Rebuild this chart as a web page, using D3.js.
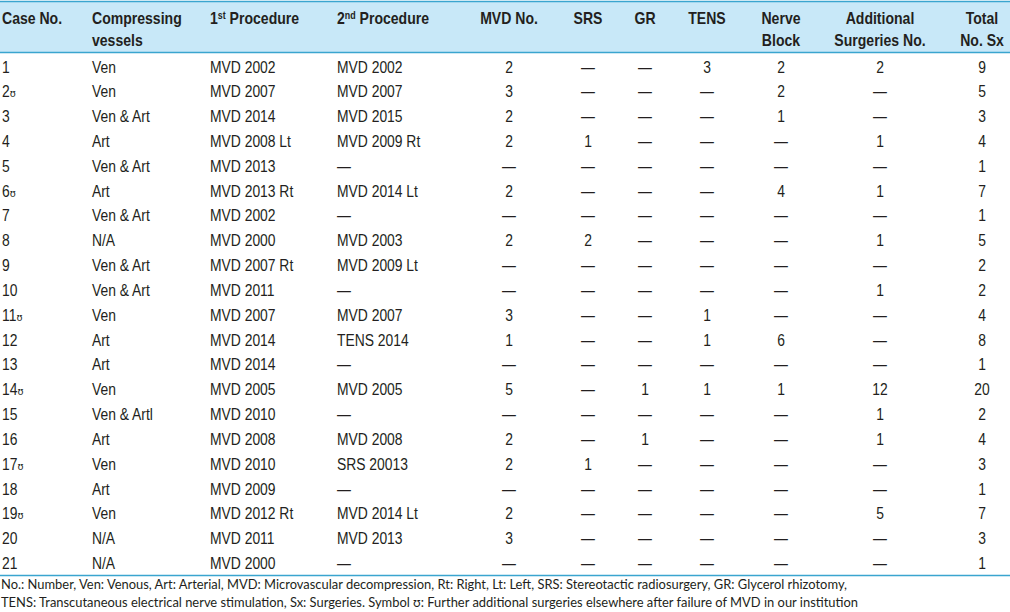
<!DOCTYPE html>
<html><head><meta charset="utf-8">
<script src="https://cdn.jsdelivr.net/npm/d3@7"></script>
<style>
html,body{margin:0;padding:0;background:#fff;}
svg{display:block;}
</style></head>
<body>
<svg id="chart" width="1010" height="612"></svg>
<script>
// ---- data ----
const caseNo = ["1","2ʊ","3","4","5","6ʊ","7","8","9","10","11ʊ","12","13","14ʊ","15","16","17ʊ","18","19ʊ","20","21"];
const vessels = ["Ven","Ven","Ven & Art","Art","Ven & Art","Art","Ven & Art","N/A","Ven & Art","Ven & Art","Ven","Art","Art","Ven","Ven & Artl","Art","Ven","Art","Ven","N/A","N/A"];
const proc1 = ["MVD 2002","MVD 2007","MVD 2014","MVD 2008 Lt","MVD 2013","MVD 2013 Rt","MVD 2002","MVD 2000","MVD 2007 Rt","MVD 2011","MVD 2007","MVD 2014","MVD 2014","MVD 2005","MVD 2010","MVD 2008","MVD 2010","MVD 2009","MVD 2012 Rt","MVD 2011","MVD 2000"];
const proc2 = ["MVD 2002","MVD 2007","MVD 2015","MVD 2009 Rt",null,"MVD 2014 Lt",null,"MVD 2003","MVD 2009 Lt",null,"MVD 2007","TENS 2014",null,"MVD 2005",null,"MVD 2008","SRS 20013",null,"MVD 2014 Lt","MVD 2013",null];
const mvdNo = [2,3,2,2,null,2,null,2,null,null,3,1,null,5,null,2,2,null,2,3,null];
const srs = [null,null,null,1,null,null,null,2,null,null,null,null,null,null,null,null,1,null,null,null,null];
const gr = [null,null,null,null,null,null,null,null,null,null,null,null,null,1,null,1,null,null,null,null,null];
const tens = [3,null,null,null,null,null,null,null,null,null,1,1,null,1,null,null,null,null,null,null,null];
const nerveBlock = [2,2,1,null,null,4,null,null,null,null,null,6,null,1,null,null,null,null,null,null,null];
const additional = [2,null,null,1,null,1,null,1,null,1,null,null,null,12,1,1,null,null,5,null,null];
const totalSx = [9,5,3,4,1,7,1,5,2,2,4,8,1,20,2,4,3,1,7,3,1];
const headers = [
  {key:"case", lines:["Case No."]},
  {key:"vessels", lines:["Compressing","vessels"]},
  {key:"proc1", lines:["1|st| Procedure"]},
  {key:"proc2", lines:["2|nd| Procedure"]},
  {key:"mvd", lines:["MVD No."]},
  {key:"srs", lines:["SRS"]},
  {key:"gr", lines:["GR"]},
  {key:"tens", lines:["TENS"]},
  {key:"nerve", lines:["Nerve","Block"]},
  {key:"add", lines:["Additional","Surgeries No."]},
  {key:"total", lines:["Total","No. Sx"]}
];
const footnotes = [
  "No.: Number, Ven: Venous, Art: Arterial, MVD: Microvascular decompression, Rt: Right, Lt: Left, SRS: Stereotactic radiosurgery, GR: Glycerol rhizotomy,",
  "TENS: Transcutaneous electrical nerve stimulation, Sx: Surgeries. Symbol ʊ: Further additional surgeries elsewhere after failure of MVD in our institution"
];

// ---- layout ----
const columns = [
  {key:"case", values:caseNo, x:2, anchor:"start"},
  {key:"vessels", values:vessels, x:92, anchor:"start"},
  {key:"proc1", values:proc1, x:210, anchor:"start"},
  {key:"proc2", values:proc2, x:337, anchor:"start"},
  {key:"mvd", values:mvdNo, x:509, anchor:"middle"},
  {key:"srs", values:srs, x:588, anchor:"middle"},
  {key:"gr", values:gr, x:645, anchor:"middle"},
  {key:"tens", values:tens, x:707, anchor:"middle"},
  {key:"nerve", values:nerveBlock, x:781, anchor:"middle"},
  {key:"add", values:additional, x:880, anchor:"middle"},
  {key:"total", values:totalSx, x:982, anchor:"middle"}
];
const colByKey = Object.fromEntries(columns.map(c=>[c.key,c]));

const W = 1010;
const FONT = "'Liberation Sans',Arial,sans-serif";
const SX = 0.89;   // horizontal condensing to mimic condensed face
const TXT = "#231f20";
const LINE = "#3aa5cf";
const HEADBG = "#c8e8f8";

const svg = d3.select("#chart");
const tf = (x,y)=>`translate(${x},${y}) scale(${SX},1)`;

// header band
svg.append("rect").attr("x",0).attr("y",1.5).attr("width",W).attr("height",51).attr("fill",HEADBG);
svg.append("line").attr("x1",0).attr("x2",W).attr("y1",1.5).attr("y2",1.5).attr("stroke",LINE).attr("stroke-width",1.5);
svg.append("line").attr("x1",0).attr("x2",W).attr("y1",52.5).attr("y2",52.5).attr("stroke",LINE).attr("stroke-width",1.5);

// header text
const hg = svg.append("g").attr("font-family",FONT).attr("font-weight","bold").attr("font-size",15.8).attr("fill",TXT);
headers.forEach(h=>{
  const c = colByKey[h.key];
  h.lines.forEach((ln,i)=>{
    const t = hg.append("text").attr("transform",tf(c.x,24+i*21.5)).attr("text-anchor",c.anchor);
    const parts = ln.split("|");
    if(parts.length===1){ t.text(ln); }
    else {
      t.append("tspan").text(parts[0]);
      t.append("tspan").attr("dy",-5).attr("font-size",10).text(parts[1]);
      t.append("tspan").attr("dy",5).text(parts[2]);
    }
  });
});

// rows
const nRows = caseNo.length;
const y = d3.scalePoint().domain(d3.range(nRows)).range([72.5, 569]);

const bg = svg.append("g").attr("font-family",FONT).attr("font-size",15.6).attr("fill",TXT);
columns.forEach(c=>{
  bg.selectAll(null).data(c.values).join("text")
    .attr("transform",(d,i)=>tf(c.x,y(i)))
    .attr("text-anchor",c.anchor)
    .each(function(d){
      const t = d3.select(this);
      if(d===null){ t.text("—"); return; }
      const s = String(d);
      if(s.endsWith("ʊ")){
        t.append("tspan").text(s.slice(0,-1));
        t.append("tspan").attr("font-size",11).attr("font-family","'DejaVu Sans',sans-serif").text("ʊ");
      } else t.text(s);
    });
});

// bottom rule
svg.append("line").attr("x1",0).attr("x2",W).attr("y1",575.5).attr("y2",575.5).attr("stroke",LINE).attr("stroke-width",1.5);

// footnotes
const fnLen = [846, 857];
svg.append("g").attr("font-family","Lato,'Open Sans',sans-serif").attr("font-size",12.6).attr("fill",TXT)
  .selectAll("text").data(footnotes).join("text")
  .attr("x",1).attr("y",(d,i)=>589+i*18)
  .attr("textLength",(d,i)=>fnLen[i]).attr("lengthAdjust","spacingAndGlyphs")
  .text(d=>d);
</script>
</body></html>
